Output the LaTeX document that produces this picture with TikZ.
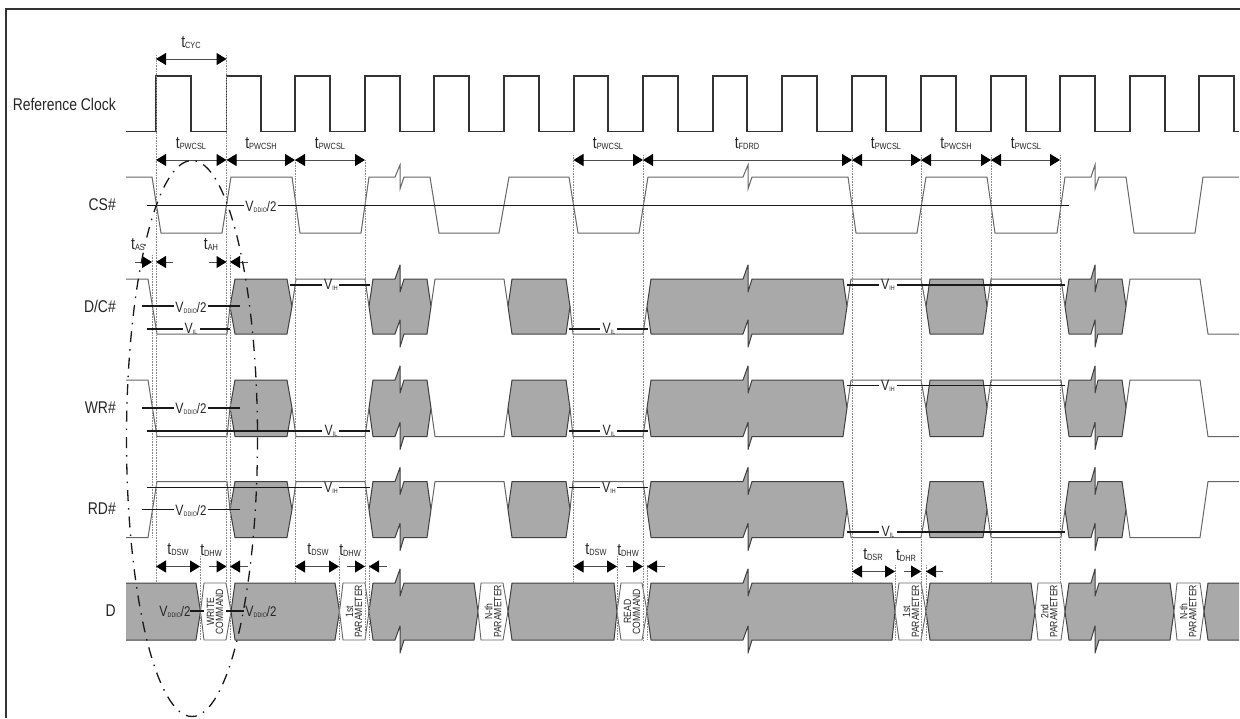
\documentclass[tikz,border=0pt]{standalone}
\usepackage{fontspec}
\setmainfont[FakeStretch=0.82]{Liberation Sans}
\usetikzlibrary{arrows.meta,positioning}
\definecolor{busgray}{HTML}{A9A9A9}
\newcommand{\tsub}[1]{{\fontsize{17}{17}\selectfont t}\lower1pt\hbox{\fontsize{9}{9}\selectfont #1}}
\newcommand{\vsub}[2]{{\fontsize{15}{15}\selectfont V}\lower1pt\hbox{\fontsize{6.5}{7}\selectfont #1}{\fontsize{14}{15}\selectfont #2}}
\tikzset{
 sig/.style={anchor=east,inner sep=0pt,text=black!85,font=\fontsize{17}{17}\selectfont},
 tlab/.style={inner sep=0pt,text=black!85},
 vlab/.style={inner sep=0pt,text=black!85},
 plab/.style={inner sep=0pt,rotate=90,align=center,text=black!85,font=\fontsize{10.5}{9}\selectfont},
 wave/.style={draw=black!60,line width=1pt},
 clock/.style={draw=black!80,line width=1.3pt},
 bus/.style={fill=busgray,draw=black!75,line width=1pt,line join=round},
 cell/.style={fill=white,draw=black!60,line width=0.9pt},
 lvl/.style={draw=black!90,line width=1.2pt},
 guide/.style={draw=black!45,line width=0.6pt,densely dotted},
 dim/.style={draw=black!70,line width=1pt,{Triangle[length=10pt,width=12pt,black]}-{Triangle[length=10pt,width=12pt,black]}},
 dimr/.style={draw=black!70,line width=1pt,-{Triangle[length=10pt,width=12pt,black]}},
 frame/.style={draw=black!80,line width=1.3pt},
 oval/.style={draw=black!90,line width=1.3pt,dash pattern=on 11pt off 7pt on 1.5pt off 7pt}
}
\begin{document}
\begin{tikzpicture}[x=1pt,y=-1pt]
 \useasboundingbox (0,0) rectangle (1240,718);
 \draw[frame] (6,718) -- (6,9) -- (1240,9);

 \node[sig] (clk) at (116,104) {Reference Clock};
 \node[sig] (cs) at (116,205) {CS\#};
 \node[sig] (dc) at (116,306) {D/C\#};
 \node[sig] (wr) at (116,408) {WR\#};
 \node[sig] (rd) at (116,509) {RD\#};
 \node[sig] (d) at (116,611) {D};

 \draw[clock] (126,131.5) -- (156,131.5) -- (156,76) -- (191,76) -- (191,131.5) -- (226.5,131.5) -- (226.5,76) -- (261,76) -- (261,131.5) -- (295,131.5) -- (295,76) -- (330,76) -- (330,131.5) -- (365,131.5) -- (365,76) -- (400,76) -- (400,131.5) -- (434,131.5) -- (434,76) -- (469,76) -- (469,131.5) -- (504,131.5) -- (504,76) -- (539,76) -- (539,131.5) -- (574,131.5) -- (574,76) -- (608,76) -- (608,131.5) -- (643,131.5) -- (643,76) -- (678,76) -- (678,131.5) -- (713,131.5) -- (713,76) -- (747,76) -- (747,131.5) -- (782,131.5) -- (782,76) -- (817,76) -- (817,131.5) -- (852,131.5) -- (852,76) -- (886,76) -- (886,131.5) -- (921,131.5) -- (921,76) -- (956,76) -- (956,131.5) -- (991,131.5) -- (991,76) -- (1026,76) -- (1026,131.5) -- (1060,131.5) -- (1060,76) -- (1095,76) -- (1095,131.5) -- (1130,131.5) -- (1130,76) -- (1165,76) -- (1165,131.5) -- (1199,131.5) -- (1199,76) -- (1234,76) -- (1234,131.5) -- (1239,131.5);

 \draw[wave] (126,177) -- (152,177) -- (161,233) -- (222,233) -- (231,177) -- (292,177) -- (300,233) -- (361,233) -- (369,177) -- (395,177) -- (400,165) -- (400,189) -- (404,177) -- (430,177) -- (439,233) -- (499,233) -- (509,177) -- (569,177) -- (578,233) -- (639,233) -- (648,177) -- (743,177) -- (748,165) -- (748,189) -- (752,177) -- (848,177) -- (856,233) -- (917,233) -- (926,177) -- (987,177) -- (995,233) -- (1057,233) -- (1065,177) -- (1091,177) -- (1095,165) -- (1095,189) -- (1099,177) -- (1126,177) -- (1134,233) -- (1195,233) -- (1203,177) -- (1239,177);

 \foreach \ytop/\ymid/\ylow in {279/306.5/334,380/408/436.5,481.5/509.5/537.5}{
  \draw[bus] (230,\ymid) -- (235,\ytop) -- (287,\ytop) -- (292,\ymid) -- (287,\ylow) -- (235,\ylow) -- cycle;
  \draw[bus] (369,\ymid) -- (373,\ytop) -- (395,\ytop) -- (400,\ytop-14) -- (400,\ytop+13) -- (404,\ytop) -- (427,\ytop) -- (431,\ymid) -- (427,\ylow) -- (404,\ylow) -- (400,\ylow+13) -- (400,\ylow-14) -- (395,\ylow) -- (373,\ylow) -- cycle;
  \draw[bus] (508,\ymid) -- (512,\ytop) -- (566,\ytop) -- (570,\ymid) -- (566,\ylow) -- (512,\ylow) -- cycle;
  \draw[bus] (647,\ymid) -- (651,\ytop) -- (743,\ytop) -- (748,\ytop-14) -- (748,\ytop+13) -- (752,\ytop) -- (843,\ytop) -- (847,\ymid) -- (843,\ylow) -- (752,\ylow) -- (748,\ylow+13) -- (748,\ylow-14) -- (743,\ylow) -- (651,\ylow) -- cycle;
  \draw[bus] (926,\ymid) -- (930,\ytop) -- (983,\ytop) -- (987,\ymid) -- (983,\ylow) -- (930,\ylow) -- cycle;
  \draw[bus] (1065,\ymid) -- (1069,\ytop) -- (1091,\ytop) -- (1095,\ytop-14) -- (1095,\ytop+13) -- (1098,\ytop) -- (1122,\ytop) -- (1126,\ymid) -- (1122,\ylow) -- (1098,\ylow) -- (1095,\ylow+13) -- (1095,\ylow-14) -- (1091,\ylow) -- (1069,\ylow) -- cycle;
 }

 \draw[wave] (126,279) -- (148,279) -- (157,334) -- (227,334) -- (230,306.5) (292,306.5) -- (296,279) -- (365,279) -- (369,306.5) (431,306.5) -- (435,279) -- (504,279) -- (508,306.5) (570,306.5) -- (573,334) -- (643,334) -- (647,306.5) (847,306.5) -- (851,279) -- (921,279) -- (926,306.5) (987,306.5) -- (991,279) -- (1061,279) -- (1065,306.5) (1126,306.5) -- (1130,279) -- (1200,279) -- (1208,334) -- (1239,334);
 \draw[wave] (126,380) -- (148,380) -- (157,436.5) -- (227,436.5) -- (230,408) (292,408) -- (296,436.5) -- (365,436.5) -- (369,408) (431,408) -- (435,436.5) -- (504,436.5) -- (508,408) (570,408) -- (573,436.5) -- (643,436.5) -- (647,408) (847,408) -- (851,380) -- (921,380) -- (926,408) (987,408) -- (991,380) -- (1061,380) -- (1065,408) (1126,408) -- (1130,380) -- (1200,380) -- (1208,436.5) -- (1239,436.5);
 \draw[wave] (126,537.5) -- (148,537.5) -- (157,481.5) -- (227,481.5) -- (230,509.5) (292,509.5) -- (296,481.5) -- (365,481.5) -- (369,509.5) (431,509.5) -- (435,481.5) -- (504,481.5) -- (508,509.5) (570,509.5) -- (573,481.5) -- (643,481.5) -- (647,509.5) (847,509.5) -- (851,537.5) -- (921,537.5) -- (926,509.5) (987,509.5) -- (991,537.5) -- (1061,537.5) -- (1065,509.5) (1126,509.5) -- (1130,537.5) -- (1200,537.5) -- (1208,481.5) -- (1239,481.5);

 \draw[bus] (126,583) -- (196,583) -- (200.5,611.5) -- (196,640) -- (126,640);
 \draw[cell] (200.5,611.5) -- (204,583) -- (226,583) -- (231,611.5) -- (226,640) -- (204,640) -- cycle;
 \draw[bus] (231,611.5) -- (235,583) -- (335,583) -- (339.5,611.5) -- (335,640) -- (235,640) -- cycle;
 \draw[cell] (339.5,611.5) -- (343,583) -- (365,583) -- (369,611.5) -- (365,640) -- (343,640) -- cycle;
 \draw[bus] (369,611.5) -- (373,583) -- (395,583) -- (400,569) -- (400,596) -- (404,583) -- (474,583) -- (478,611.5) -- (474,640) -- (404,640) -- (400,653) -- (400,626) -- (395,640) -- (373,640) -- cycle;
 \draw[cell] (478,611.5) -- (481,583) -- (503,583) -- (508,611.5) -- (503,640) -- (481,640) -- cycle;
 \draw[bus] (508,611.5) -- (512,583) -- (614,583) -- (617,611.5) -- (614,640) -- (512,640) -- cycle;
 \draw[cell] (617,611.5) -- (621,583) -- (642,583) -- (647,611.5) -- (642,640) -- (621,640) -- cycle;
 \draw[bus] (647,611.5) -- (651,583) -- (743,583) -- (748,569) -- (748,596) -- (752,583) -- (892,583) -- (895,611.5) -- (892,640) -- (752,640) -- (748,653) -- (748,626) -- (743,640) -- (651,640) -- cycle;
 \draw[cell] (895,611.5) -- (899,583) -- (921,583) -- (926,611.5) -- (921,640) -- (899,640) -- cycle;
 \draw[bus] (926,611.5) -- (930,583) -- (1031,583) -- (1035,611.5) -- (1031,640) -- (930,640) -- cycle;
 \draw[cell] (1035,611.5) -- (1038,583) -- (1061,583) -- (1065,611.5) -- (1061,640) -- (1038,640) -- cycle;
 \draw[bus] (1065,611.5) -- (1069,583) -- (1091,583) -- (1095,569) -- (1095,596) -- (1099,583) -- (1170,583) -- (1174,611.5) -- (1170,640) -- (1099,640) -- (1095,653) -- (1095,626) -- (1091,640) -- (1069,640) -- cycle;
 \draw[cell] (1174,611.5) -- (1177,583) -- (1200,583) -- (1204,611.5) -- (1200,640) -- (1177,640) -- cycle;
 \draw[bus] (1239,583) -- (1208,583) -- (1204,611.5) -- (1208,640) -- (1239,640);

 \node[plab] (wcmd) at (215,611.5) {WRITE\\COMMAND};
 \node[plab] (par1a) at (354,611.5) {1st\\PARAMETER};
 \node[plab] (parna) at (493,611.5) {N-th\\PARAMETER};
 \node[plab] (rcmd) at (632,611.5) {READ\\COMMAND};
 \node[plab] (par1b) at (911,611.5) {1st\\PARAMETER};
 \node[plab] (par2) at (1049,611.5) {2nd\\PARAMETER};
 \node[plab] (parnb) at (1188,611.5) {N-th\\PARAMETER};

 \draw[guide] (156,55) -- (156,583);
 \draw[guide] (226.5,55) -- (226.5,583);
 \draw[guide] (152,255) -- (152,537);
 \draw[guide] (230,255) -- (230,640);
 \draw[guide] (295,160) -- (295,583);
 \draw[guide] (365,160) -- (365,640);
 \draw[guide] (369,565) -- (369,640);
 \draw[guide] (200,556) -- (200,640);
 \draw[guide] (339,556) -- (339,640);
 \draw[guide] (573.5,155) -- (573.5,583);
 \draw[guide] (643,155) -- (643,640);
 \draw[guide] (617,556) -- (617,640);
 \draw[guide] (647,565) -- (647,640);
 \draw[guide] (852,155) -- (852,583);
 \draw[guide] (921,155) -- (921,640);
 \draw[guide] (895,565) -- (895,640);
 \draw[guide] (926,565) -- (926,640);
 \draw[guide] (991,155) -- (991,583);
 \draw[guide] (1060,155) -- (1060,583);

 \draw[lvl] (147,205.5) -- (244,205.5) (278,205.5) -- (1069,205.5);
 \node[vlab] (vcs) at (261,206.5) {\vsub{DDIO}{/2}};
 \draw[lvl] (142,306) -- (174,306) (208,306) -- (240,306);
 \node[vlab] (vdc) at (191,308) {\vsub{DDIO}{/2}};
 \draw[lvl] (147,329) -- (183,329) (200,329) -- (230,329);
 \node[vlab] (vdcl) at (191,329) {\vsub{IL}{}};
 \draw[lvl] (290,285) -- (322,285) (339,285) -- (370,285);
 \node[vlab] (vdch) at (331,285) {\vsub{IH}{}};
 \draw[lvl] (569,329) -- (600,329) (617,329) -- (648,329);
 \node[vlab] (vdcm) at (609,329) {\vsub{IL}{}};
 \draw[lvl] (847,285) -- (879,285) (897,285) -- (1065,285);
 \node[vlab] (vdcr) at (888,285) {\vsub{IH}{}};
 \draw[lvl] (142,408) -- (174,408) (208,408) -- (240,408);
 \node[vlab] (vwr) at (191,409) {\vsub{DDIO}{/2}};
 \draw[lvl] (147,431) -- (322,431) (339,431) -- (370,431);
 \node[vlab] (vwrl) at (331,431) {\vsub{IL}{}};
 \draw[lvl] (569,431) -- (600,431) (617,431) -- (648,431);
 \node[vlab] (vwrm) at (609,431) {\vsub{IL}{}};
 \draw[lvl] (847,385.5) -- (879,385.5) (897,385.5) -- (1065,385.5);
 \node[vlab] (vwrr) at (888,386) {\vsub{IH}{}};
 \draw[lvl] (147,487.5) -- (322,487.5) (339,487.5) -- (370,487.5);
 \node[vlab] (vrdh) at (331,488) {\vsub{IH}{}};
 \draw[lvl] (142,509.5) -- (174,509.5) (208,509.5) -- (240,509.5);
 \node[vlab] (vrd) at (191,511) {\vsub{DDIO}{/2}};
 \draw[lvl] (569,487.5) -- (600,487.5) (617,487.5) -- (648,487.5);
 \node[vlab] (vrdm) at (609,488) {\vsub{IH}{}};
 \draw[lvl] (847,532) -- (879,532) (897,532) -- (1065,532);
 \node[vlab] (vrdr) at (888,532) {\vsub{IL}{}};
 \draw[lvl] (190,611) -- (204,611) (226,611) -- (244,611);
 \node[vlab] (vd1) at (175,612) {\vsub{DDIO}{/2}};
 \node[vlab] (vd2) at (261,612) {\vsub{DDIO}{/2}};

 \draw[dim] (156,59) -- (226.5,59);
 \node[tlab] (tcyc) at (191,43) {\tsub{CYC}};
 \draw[dim] (156,160) -- (226.5,160);
 \draw[dim] (226.5,160) -- (295,160);
 \draw[dim] (295,160) -- (365,160);
 \draw[dim] (573.5,160) -- (643,160);
 \draw[dim] (643,160) -- (852,160);
 \draw[dim] (852,160) -- (921,160);
 \draw[dim] (921,160) -- (991,160);
 \draw[dim] (991,160) -- (1060,160);
 \node[tlab] (tpl1) at (191,144) {\tsub{PWCSL}};
 \node[tlab] (tph1) at (261,144) {\tsub{PWCSH}};
 \node[tlab] (tpl2) at (330,144) {\tsub{PWCSL}};
 \node[tlab] (tpl3) at (608,144) {\tsub{PWCSL}};
 \node[tlab] (tfd) at (747,144) {\tsub{FDRD}};
 \node[tlab] (tpl4) at (886,144) {\tsub{PWCSL}};
 \node[tlab] (tph2) at (956,144) {\tsub{PWCSH}};
 \node[tlab] (tpl5) at (1026,144) {\tsub{PWCSL}};

 \draw[dimr] (135,262) -- (152,262);
 \draw[dimr] (173,262) -- (156,262);
 \draw[dimr] (209,262) -- (226.5,262);
 \draw[dimr] (248,262) -- (230,262);
 \node[tlab] (tas) at (138,245) {\tsub{AS}};
 \node[tlab] (tah) at (211,245) {\tsub{AH}};

 \draw[dim] (156,566.5) -- (200,566.5);
 \draw[dimr] (209,566.5) -- (226.5,566.5);
 \draw[dimr] (248,566.5) -- (230,566.5);
 \draw[dim] (295,566.5) -- (339,566.5);
 \draw[dimr] (347,566.5) -- (365,566.5);
 \draw[dimr] (387,566.5) -- (369,566.5);
 \draw[dim] (573.5,566.5) -- (617,566.5);
 \draw[dimr] (626,566.5) -- (643,566.5);
 \draw[dimr] (665,566.5) -- (647,566.5);
 \draw[dim] (852,571.5) -- (895,571.5);
 \draw[dimr] (904,571.5) -- (921,571.5);
 \draw[dimr] (943,571.5) -- (926,571.5);
 \node[tlab] (tds1) at (178,550) {\tsub{DSW}};
 \node[tlab] (tdh1) at (211,550) {\tsub{DHW}};
 \node[tlab] (tds2) at (318,550) {\tsub{DSW}};
 \node[tlab] (tdh2) at (350,550) {\tsub{DHW}};
 \node[tlab] (tds3) at (596,550) {\tsub{DSW}};
 \node[tlab] (tdh3) at (628,550) {\tsub{DHW}};
 \node[tlab] (tdsr) at (873,555) {\tsub{DSR}};
 \node[tlab] (tdhr) at (906,555) {\tsub{DHR}};

 \draw[oval] (192,438.5) ellipse [x radius=65.5,y radius=278];
\end{tikzpicture}
\end{document}
